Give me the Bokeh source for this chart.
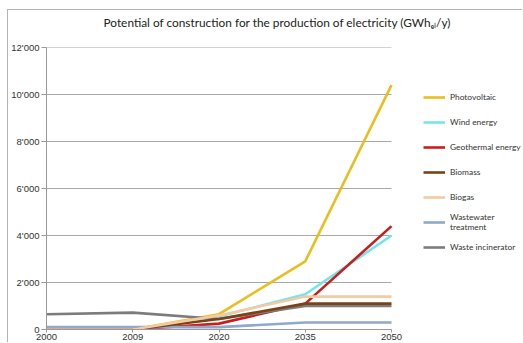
from bokeh.plotting import figure
from bokeh.models import Legend, LegendItem, FixedTicker, Range1d, Title
from bokeh.embed import file_html
from bokeh.resources import INLINE

years = ["2000", "2009", "2020", "2035", "2050"]
photovoltaic = [0, 0, 650, 2900, 10400]
wind_energy = [0, 0, 550, 1500, 4000]
geothermal = [0, 0, 250, 1100, 4400]
biomass = [0, 0, 450, 1100, 1100]
biogas = [0, 0, 600, 1400, 1400]
wastewater = [100, 100, 100, 300, 300]
incinerator = [650, 720, 450, 1000, 1000]

y_ticks = [0, 2000, 4000, 6000, 8000, 10000, 12000]
y_labels = ["0", "2'000", "4'000", "6'000", "8'000", "10'000", "12'000"]

series = [
    ("Photovoltaic", photovoltaic, "#E9BE1E"),
    ("Wind energy", wind_energy, "#72E6EA"),
    ("Geothermal energy", geothermal, "#C81E1E"),
    ("Biomass", biomass, "#7A4216"),
    ("Biogas", biogas, "#F5C9A2"),
    ("Wastewater\ntreatment", wastewater, "#8FA8CB"),
    ("Waste incinerator", incinerator, "#7C7C7C"),
]
draw_order = [0, 1, 2, 6, 5, 3, 4]

xs = list(range(len(years)))
last = len(years) - 1
# plot area of the lines is 345 px wide; the frame continues to the right edge for the legend
x_end = last * (515 - 38) / 345.0

p = figure(width=515, height=333, output_backend="svg", toolbar_location=None,
           x_range=Range1d(0, x_end), y_range=Range1d(0, 12000),
           min_border_left=38, min_border_right=0, min_border_top=37, min_border_bottom=14)
p.styles = {"border-left": "1px solid #b4b4b4", "border-top": "1px solid #b4b4b4",
            "margin-left": "7px", "margin-top": "9px"}
p.background_fill_color = "white"
p.border_fill_color = "white"
p.outline_line_color = None

p.title = Title(text="Potential of construction for the production of electricity (GWhₑₗ/y)",
                align="left", offset=57, text_font="Lato", text_font_size="11.85px",
                text_font_style="normal", text_color="#222222", standoff=4)
# empty spacer between the title and the plot area
p.add_layout(Title(text=" ", text_font_size="11px", standoff=2), "above")

# horizontal grid lines spanning only the category extent
p.multi_line([[0, last] for _ in y_ticks], [[t, t] for t in y_ticks],
             line_color="#a8a8a8", line_width=1)

renderers = {}
for i in draw_order:
    name, vals, col = series[i]
    renderers[i] = p.line(xs, vals, line_color=col, line_width=2.6)

items = [LegendItem(label=series[i][0], renderers=[renderers[i]]) for i in range(len(series))]
legend = Legend(items=items, location=(377, 72), margin=0, padding=0,
                spacing=5, label_height=20, glyph_height=20, glyph_width=22,
                label_standoff=5, label_text_font="Lato", label_text_font_size="8.4px",
                label_text_color="#333333", background_fill_alpha=0, border_line_color=None)
p.add_layout(legend, "center")

p.xaxis.ticker = FixedTicker(ticks=xs)
p.xaxis.major_label_overrides = {i: y for i, y in enumerate(years)}
p.xaxis.bounds = (0, last)
p.yaxis.ticker = FixedTicker(ticks=y_ticks)
p.yaxis.major_label_overrides = {t: l for t, l in zip(y_ticks, y_labels)}

for ax in (p.xaxis, p.yaxis):
    ax.axis_line_color = "#9a9a9a"
    ax.major_tick_line_color = "#9a9a9a"
    ax.major_tick_in = 0
    ax.minor_tick_line_color = None
    ax.major_label_text_font = "Liberation Sans"
    ax.major_label_text_font_size = "9.5px"
    ax.major_label_text_color = "#333333"
p.yaxis.major_tick_out = 5
p.yaxis.major_label_standoff = 2
p.xaxis.major_tick_out = 3
p.xaxis.major_label_standoff = 1

p.xgrid.grid_line_color = None
p.ygrid.grid_line_color = None

open("out.html", "w").write(file_html(p, INLINE))
